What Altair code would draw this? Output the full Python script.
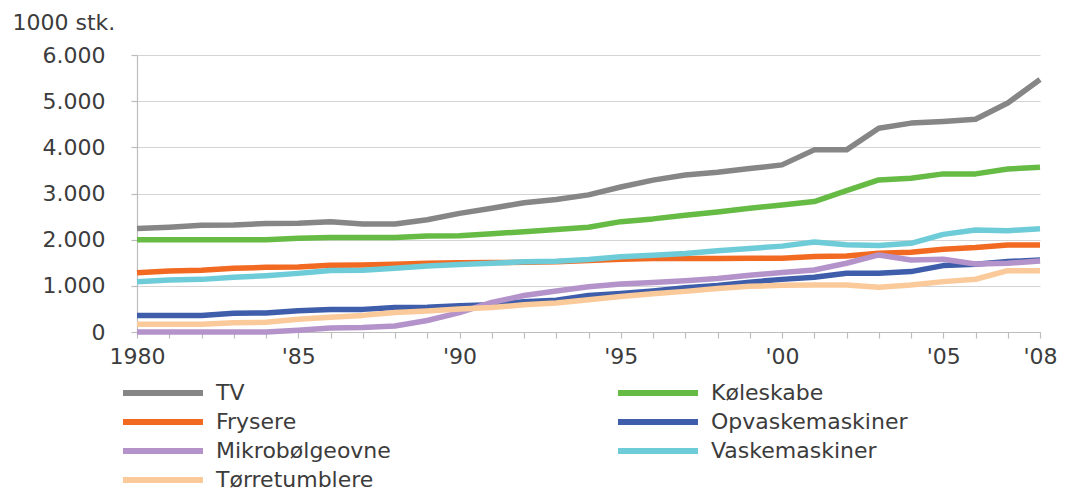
import altair as alt
import pandas as pd

years = list(range(1980, 2009))

series_names = ["TV", "Køleskabe", "Frysere", "Opvaskemaskiner",
                "Mikrobølgeovne", "Vaskemaskiner", "Tørretumblere"]
series_colors = ["#868686", "#66BB44", "#F26A21", "#3E5DAA",
                 "#B493CB", "#6ECCD9", "#FBCA9A"]
# legend fills column by column: order entries so that it reads row by row
legend_order = ["TV", "Frysere", "Mikrobølgeovne", "Tørretumblere",
                "Køleskabe", "Opvaskemaskiner", "Vaskemaskiner"]

tv = [2240, 2270, 2310, 2320, 2350, 2355, 2390, 2340, 2340, 2430,
      2570, 2680, 2800, 2870, 2970, 3140, 3290, 3400, 3460, 3540,
      3620, 3945, 3945, 4415, 4525, 4560, 4610, 4960, 5470]
koleskabe = [2000, 2000, 2000, 2000, 2000, 2030, 2045, 2045, 2045, 2080,
             2085, 2130, 2170, 2220, 2270, 2390, 2450, 2530, 2600, 2680,
             2750, 2825, 3060, 3295, 3330, 3425, 3425, 3530, 3570]
frysere = [1285, 1320, 1340, 1380, 1400, 1410, 1445, 1450, 1470, 1490,
           1500, 1505, 1510, 1520, 1550, 1575, 1590, 1590, 1590, 1595,
           1597, 1633, 1647, 1705, 1727, 1790, 1828, 1886, 1886]
opvask = [355, 355, 355, 405, 413, 460, 490, 490, 530, 535,
          570, 590, 655, 690, 790, 835, 890, 960, 1010, 1080,
          1140, 1185, 1272, 1272, 1308, 1438, 1467, 1525, 1560]
mikro = [0, 0, 0, 0, 0, 40, 85, 95, 130, 250,
         420, 640, 790, 890, 980, 1040, 1070, 1110, 1160, 1230,
         1290, 1344, 1489, 1669, 1561, 1575, 1474, 1489, 1539]
vask = [1090, 1125, 1140, 1185, 1220, 1270, 1330, 1335, 1380, 1430,
        1460, 1490, 1520, 1535, 1570, 1630, 1665, 1700, 1760, 1810,
        1860, 1950, 1890, 1875, 1920, 2115, 2210, 2195, 2235]
tumbler = [170, 170, 170, 200, 210, 275, 318, 360, 420, 455,
           500, 530, 590, 630, 700, 770, 830, 880, 940, 990,
           1010, 1019, 1019, 968, 1019, 1091, 1142, 1329, 1329]

tick_years = [1980, 1985, 1990, 1995, 2000, 2005, 2008]
tick_labels = ["1980", "'85", "'90", "'95", "'00", "'05", "'08"]

all_values = [tv, koleskabe, frysere, opvask, mikro, vask, tumbler]
rows = []
for order, (name, vals) in enumerate(zip(series_names, all_values)):
    for y, v in zip(years, vals):
        rows.append({"year": y, "value": v, "series": name, "order": order})
df = pd.DataFrame(rows)

color_of = dict(zip(series_names, series_colors))

label_expr = " : ".join(
    f"datum.value == {y} ? \"{l}\"" for y, l in zip(tick_years, tick_labels)
) + " : ''"

FONT = "DejaVu Sans"
TXT = "#3C3C3C"
FS = 22

chart = alt.Chart(df).mark_line(strokeWidth=5.5, strokeJoin="round").encode(
    x=alt.X("year:Q",
            scale=alt.Scale(domain=[1980, 2008], nice=False, zero=False),
            axis=alt.Axis(values=years, labelExpr=label_expr, title=None,
                          grid=False, tickSize=6, labelPadding=8,
                          labelOverlap=False, labelFlush=False,
                          labelFont=FONT, labelFontSize=FS, labelColor=TXT)),
    y=alt.Y("value:Q",
            scale=alt.Scale(domain=[0, 6000], nice=False),
            axis=alt.Axis(values=[0, 1000, 2000, 3000, 4000, 5000, 6000],
                          labelExpr="replace(format(datum.value, ','), ',', '.')",
                          title="1000 stk.", titleAngle=0, titleAlign="left",
                          titleBaseline="middle", titleX=-125, titleY=-33,
                          titleFontWeight="normal", titleFontSize=FS,
                          titleFont=FONT, titleColor=TXT,
                          tickSize=6, labelPadding=26,
                          labelFont=FONT, labelFontSize=FS, labelColor=TXT)),
    color=alt.Color("series:N",
                    scale=alt.Scale(domain=legend_order,
                                    range=[color_of[n] for n in legend_order]),
                    legend=alt.Legend(title=None, orient="none",
                                      legendX=13, legendY=325,
                                      columns=2, columnPadding=215,
                                      rowPadding=4,
                                      symbolType="M-4,0H4", symbolSize=400,
                                      symbolStrokeWidth=6, labelOffset=40,
                                      labelFontSize=FS, labelFont=FONT,
                                      labelColor=TXT, labelLimit=400)),
    order=alt.Order("order:Q"),
    detail="series:N",
).properties(
    width=903, height=277,
    background="white",
    autosize=alt.AutoSizeParams(type="none"),
    padding={"left": 137, "top": 55, "right": 29, "bottom": 159},
).configure_axis(
    domainColor="#BDBDBD", tickColor="#BDBDBD", gridColor="#D4D4D4",
    gridWidth=1.2, domainWidth=1.2, tickWidth=1.2,
).configure_view(stroke=None)

chart.save("out.html", embed_options={"renderer": "svg", "actions": False})
